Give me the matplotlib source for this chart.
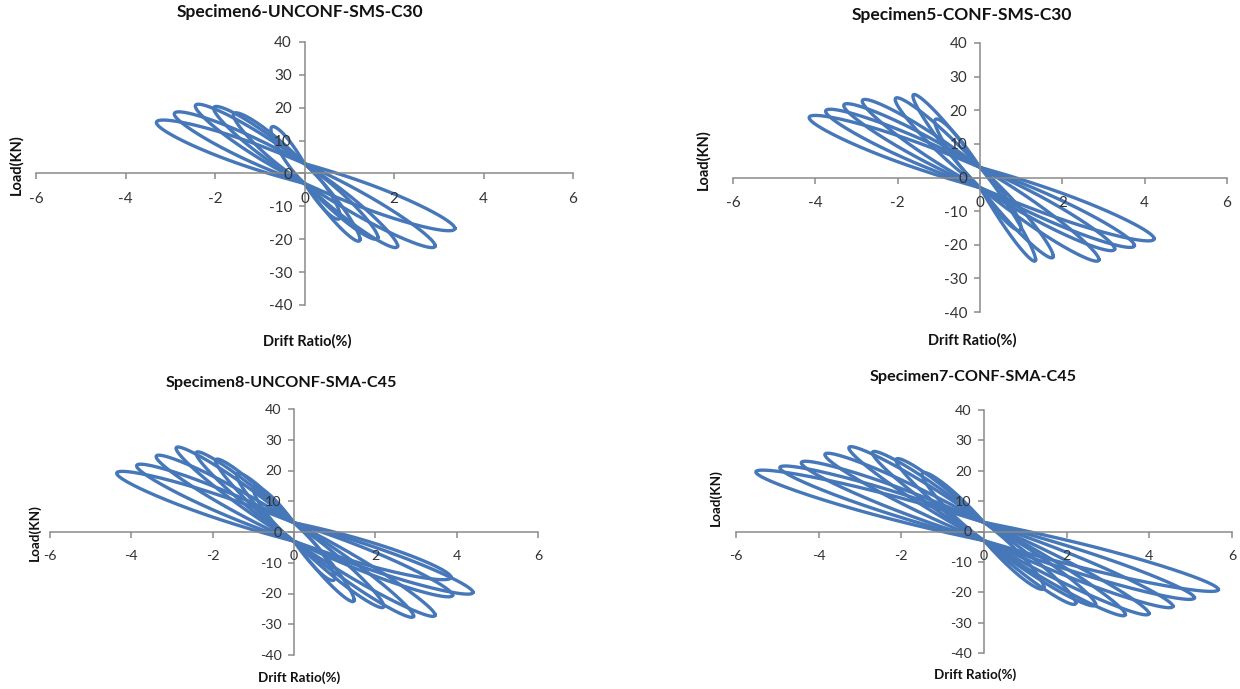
import numpy as np
import matplotlib.pyplot as plt

plt.rcParams['font.family'] = ['Lato', 'DejaVu Sans']
plt.rcParams['axes.unicode_minus'] = False

# peak points of every cycle (drift %, load kN)
s6_left_drift = [-0.75, -1.59, -2.03, -2.44, -2.91, -3.31]
s6_left_load = [13.4, 17.8, 19.8, 20.5, 18.1, 15.5]
s6_right_drift = [0.8, 1.24, 1.64, 2.08, 2.92, 3.36]
s6_right_load = [-13.0, -20.0, -19.4, -22.0, -22.0, -16.7]

s5_left_drift = [-1.1, -1.63, -2.06, -2.86, -3.31, -3.75, -4.15]
s5_left_load = [16.7, 24.2, 23.2, 22.7, 21.4, 19.7, 17.8]
s5_right_drift = [1.0, 1.35, 1.78, 2.89, 3.27, 3.75, 4.23]
s5_right_load = [-15.0, -24.4, -23.4, -24.4, -21.2, -20.2, -18.2]

s8_left_drift = [-1.0, -1.41, -1.93, -2.41, -2.9, -3.39, -3.87, -4.36]
s8_left_load = [14.0, 18.5, 23.2, 25.6, 27.2, 24.5, 21.5, 19.1]
s8_right_drift = [1.0, 1.48, 2.21, 2.94, 3.47, 3.86, 3.9, 4.4]
s8_right_load = [-15.0, -22.1, -24.1, -27.3, -27.0, -14.7, -20.5, -19.6]

s7_left_drift = [-1.5, -2.13, -2.7, -3.27, -3.85, -4.42, -4.94, -5.52]
s7_left_load = [18.8, 23.5, 25.9, 27.5, 25.3, 22.6, 21.0, 19.6]
s7_right_drift = [1.45, 2.22, 2.7, 3.42, 3.99, 4.57, 5.09, 5.67]
s7_right_load = [-18.4, -23.5, -24.0, -27.3, -27.0, -24.6, -21.8, -19.1]

titles = ['Specimen6-UNCONF-SMS-C30', 'Specimen5-CONF-SMS-C30',
          'Specimen8-UNCONF-SMA-C45', 'Specimen7-CONF-SMA-C45']
x_ticks = [-6, -4, -2, 0, 2, 4, 6]
y_ticks = [-40, -30, -20, -10, 0, 10, 20, 30, 40]

W, H = 1240, 689
BLUE = '#4677b8'
GREY = '#8a8a8a'

theta = np.linspace(0, 2 * np.pi, 600)


def hysteresis_loop(xl, yl, xr, yr, pinch=3.0, bulge=2.6):
    # one cycle: lens from the negative peak through the origin to the positive peak
    c = np.cos(theta)
    s = np.sin(theta)
    right = c >= 0
    x = np.where(right, xr * c, -xl * c)
    y = np.where(right, yr * c, -yl * c) + s * (pinch + 2 * bulge * np.abs(c)) * (1 - 0.4 * np.abs(c))
    return x, y


def px_box(l, t, r, b):
    return [l / W, 1 - b / H, (r - l) / W, (b - t) / H]


def ftext(x, y, s, **kw):
    return fig.text(x / W, 1 - y / H, s, ha='center', va='center', **kw)


panels = [
    dict(data=(s6_left_drift, s6_left_load, s6_right_drift, s6_right_load),
         box=(36, 42, 573, 305), title=(300, 12), ylab=(16, 165), xlab=(307, 341), fs=1.0),
    dict(data=(s5_left_drift, s5_left_load, s5_right_drift, s5_right_load),
         box=(733, 43, 1227, 312), title=(962, 15), ylab=(703, 160), xlab=(972, 340), fs=1.0),
    dict(data=(s8_left_drift, s8_left_load, s8_right_drift, s8_right_load),
         box=(50, 409, 538, 655), title=(281, 383), ylab=(35, 533), xlab=(299, 678), fs=0.93),
    dict(data=(s7_left_drift, s7_left_load, s7_right_drift, s7_right_load),
         box=(736, 410, 1232, 653), title=(973, 377), ylab=(716, 498), xlab=(975, 675), fs=0.93),
]

fig = plt.figure(figsize=(W / 100, H / 100), dpi=100)

for p, title in zip(panels, titles):
    ax = fig.add_axes(px_box(*p['box']))
    xl, yl, xr, yr = p['data']
    for i in range(len(xl)):
        lx, ly = hysteresis_loop(xl[i], yl[i], xr[i], yr[i])
        ax.plot(lx, ly, color=BLUE, lw=2.4, solid_joinstyle='round')

    ax.set_xlim(-6, 6)
    ax.set_ylim(-40, 40)
    ax.set_xticks(x_ticks)
    ax.set_yticks(y_ticks)
    ax.spines['left'].set_position(('data', 0))
    ax.spines['bottom'].set_position(('data', 0))
    ax.spines['top'].set_visible(False)
    ax.spines['right'].set_visible(False)
    for sp in ('left', 'bottom'):
        ax.spines[sp].set_color(GREY)
        ax.spines[sp].set_linewidth(1.1)
    ax.set_axisbelow(False)
    f = p['fs']
    ax.tick_params(axis='x', direction='out', length=4, width=1.1, color=GREY,
                   labelcolor='#333333', labelsize=11 * f, pad=9)
    ax.tick_params(axis='y', direction='out', length=4, width=1.1, color=GREY,
                   labelcolor='#333333', labelsize=11 * f, pad=5)
    ax.patch.set_alpha(0)

    ftext(*p['title'], title, fontsize=12.5 * f, fontweight='bold', color='#111111')
    ftext(*p['ylab'], 'Load(KN)', fontsize=10.5 * f, fontweight='bold', rotation=90,
          color='#111111', zorder=5)
    ftext(*p['xlab'], 'Drift Ratio(%)', fontsize=10.5 * f, fontweight='bold', color='#111111')

fig.savefig('out.png', dpi=100, facecolor='white')
